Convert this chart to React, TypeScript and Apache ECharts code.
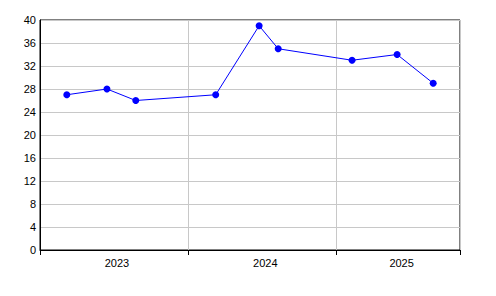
import React, { useEffect, useRef } from "react";
import * as echarts from "echarts";

const axisStart = "2023-01-01";
const axisEnd = "2025-11-01";
const dates = [
  "2023-03-08",
  "2023-06-15",
  "2023-08-25",
  "2024-03-09",
  "2024-06-24",
  "2024-08-10",
  "2025-02-08",
  "2025-05-30",
  "2025-08-27",
];
const values = [27, 28, 26, 27, 39, 35, 33, 34, 29];
const yearLabels = ["2023", "2024", "2025"];
const yTicks = { min: 0, max: 40, interval: 4 };

const DAY = 86400000;
const toDays = (d: string) => (Date.parse(d) - Date.parse(axisStart)) / DAY;

export default function App() {
  const ref = useRef<HTMLDivElement>(null);
  useEffect(() => {
    if (!ref.current) return;
    const chart = echarts.init(ref.current, undefined, { renderer: "svg" });
    const xMax = toDays(axisEnd);
    const yearInterval = 365.5;
    const font = "'Liberation Sans', Arial, sans-serif";
    chart.setOption({
      animation: false,
      backgroundColor: "#ffffff",
      grid: {
        left: 40,
        right: 36,
        top: 20,
        bottom: 46,
        show: true,
        borderColor: "#000000",
        borderWidth: 1,
        backgroundColor: "transparent",
      },
      xAxis: {
        type: "value",
        min: 0,
        max: xMax,
        interval: yearInterval,
        axisLine: { show: true, lineStyle: { color: "#000000", width: 1 } },
        axisTick: { show: true, length: 5, lineStyle: { color: "#000000" } },
        splitLine: { show: true, lineStyle: { color: "#c8c8c8", width: 1 } },
        axisLabel: {
          margin: 7,
          color: "#000000",
          fontSize: 11,
          fontFamily: font,
          formatter: (v: number) => {
            const idx = Math.round(v / yearInterval);
            if (idx >= yearLabels.length || Math.abs(v - idx * yearInterval) > 1) return "";
            return idx === 2 ? `{c|${yearLabels[idx]}}` : `{a|${yearLabels[idx]}}`;
          },
          rich: {
            a: { padding: [0, 0, 0, 154], fontSize: 11, fontFamily: font, color: "#000" },
            c: { padding: [0, 0, 0, 130], fontSize: 11, fontFamily: font, color: "#000" },
          },
        },
      },
      yAxis: {
        type: "value",
        min: yTicks.min,
        max: yTicks.max,
        interval: yTicks.interval,
        axisLine: { show: true, lineStyle: { color: "#000000", width: 1 } },
        axisTick: { show: false },
        splitLine: { show: true, lineStyle: { color: "#c8c8c8", width: 1 } },
        axisLabel: { margin: 4, color: "#000000", fontSize: 11, fontFamily: font },
      },
      series: [
        {
          type: "line",
          data: dates.map((d, i) => [toDays(d), values[i]]),
          lineStyle: { color: "#0000ff", width: 1 },
          itemStyle: { color: "#0000ff" },
          symbol: "circle",
          symbolSize: 7,
          showSymbol: true,
        },
      ],
    });
    return () => chart.dispose();
  }, []);
  return (
    <div
      ref={ref}
      style={{ position: "fixed", left: 0, top: 0, width: 496, height: 296 }}
    />
  );
}
